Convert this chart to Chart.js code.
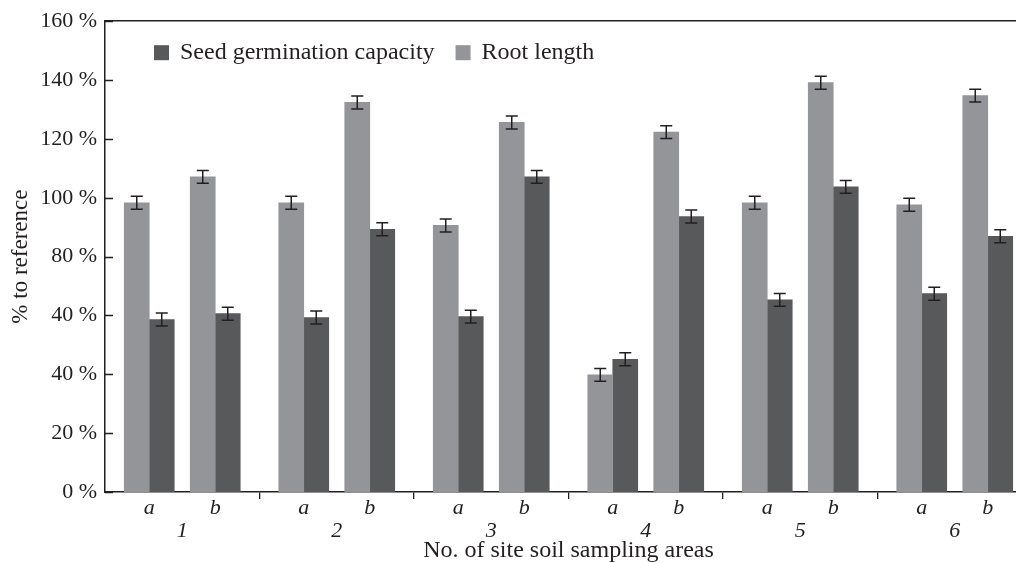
<!DOCTYPE html>
<html>
<head>
<meta charset="utf-8">
<script src="https://cdn.jsdelivr.net/npm/chart.js@4/dist/chart.umd.min.js"></script>
<style>
  html, body { margin: 0; padding: 0; overflow: hidden; background: #fff; width: 1016px; height: 563px; }
  #wrap { position: relative; width: 1032px; height: 563px; }
</style>
</head>
<body>
<div id="wrap"><canvas id="c"></canvas></div>
<script>
// ---- data ----
const categories = ['1', '2', '3', '4', '5', '6'];
const subLabels = ['a', 'b'];
const yTickLabels = ['0 %', '20 %', '40 %', '40 %', '80 %', '100 %', '120 %', '140 %', '160 %'];
const seriesNames = ['Seed germination capacity', 'Root length'];
const xTitle = 'No. of site soil sampling areas';
const yTitle = '% to reference';

const rootA = [98.3, 98.3, 90.6, 39.8, 98.3, 97.6];
const rootB = [107.1, 132.4, 125.6, 122.3, 139.1, 134.7];
const seedA = [58.6, 59.3, 59.6, 45.1, 65.3, 67.4];
const seedB = [60.6, 89.3, 107.1, 93.6, 103.7, 86.9];

const rootAErr = [2.2, 2.2, 2.2, 2.2, 2.2, 2.2];
const rootBErr = [2.2, 2.2, 2.2, 2.2, 2.2, 2.2];
const seedAErr = [2.2, 2.2, 2.2, 2.2, 2.2, 2.2];
const seedBErr = [2.2, 2.2, 2.2, 2.2, 2.2, 2.2];

// ---- style ----
const FONT = "'Liberation Serif', 'Times New Roman', serif";
const INK = '#231f20';
const DARK = '#58595b';
const LIGHT = '#939598';
const BAR_W = 25;       // bar width in px
const PAIR_OFF = 33;    // offset of a/b pair centre from group centre in px
const N = 4;
// per-dataset slot thickness so that bar centres land at the wanted offsets
function slot(i, centreOffset) { return Math.abs(centreOffset / (i + 0.5 - N / 2)); }
const offs = [-PAIR_OFF - BAR_W / 2, -PAIR_OFF + BAR_W / 2, PAIR_OFF - BAR_W / 2, PAIR_OFF + BAR_W / 2];

const datasets = [
  { label: seriesNames[1], sub: 0, data: rootA, err: rootAErr, backgroundColor: LIGHT },
  { label: seriesNames[0], sub: 0, data: seedA, err: seedAErr, backgroundColor: DARK },
  { label: seriesNames[1], sub: 1, data: rootB, err: rootBErr, backgroundColor: LIGHT },
  { label: seriesNames[0], sub: 1, data: seedB, err: seedBErr, backgroundColor: DARK }
].map((d, i) => Object.assign(d, { barThickness: slot(i, offs[i]), maxBarThickness: BAR_W, borderWidth: 0 }));

const errorBars = {
  id: 'errorBars',
  afterDatasetsDraw(chart) {
    const ctx = chart.ctx, y = chart.scales.y;
    ctx.save();
    ctx.strokeStyle = INK;
    ctx.lineWidth = 1.5;
    chart.data.datasets.forEach((ds, di) => {
      const meta = chart.getDatasetMeta(di);
      meta.data.forEach((bar, i) => {
        const v = ds.data[i], e = ds.err[i];
        const x = bar.x;
        const y1 = y.getPixelForValue(v + e), y2 = y.getPixelForValue(v - e);
        ctx.beginPath();
        ctx.moveTo(x, y1); ctx.lineTo(x, y2);
        ctx.moveTo(x - 6, y1); ctx.lineTo(x + 6, y1);
        ctx.moveTo(x - 6, y2); ctx.lineTo(x + 6, y2);
        ctx.stroke();
      });
    });
    ctx.restore();
  }
};

const decorations = {
  id: 'decorations',
  afterDraw(chart) {
    const ctx = chart.ctx, area = chart.chartArea, x = chart.scales.x, y = chart.scales.y;
    ctx.save();
    // inward y ticks
    ctx.strokeStyle = INK; ctx.lineWidth = 1.5;
    y.ticks.forEach((t, i) => {
      const py = Math.round(y.getPixelForTick(i)) + 0.5;
      ctx.beginPath(); ctx.moveTo(area.left, py); ctx.lineTo(area.left + 8, py); ctx.stroke();
    });
    // sub-category and category labels
    ctx.fillStyle = INK;
    ctx.textAlign = 'center';
    ctx.textBaseline = 'alphabetic';
    ctx.font = 'italic 22px ' + FONT;
    const m = chart.data.datasets.map((d, i) => chart.getDatasetMeta(i));
    categories.forEach((c, gi) => {
      const ax = (m[0].data[gi].x + m[1].data[gi].x) / 2;
      const bx = (m[2].data[gi].x + m[3].data[gi].x) / 2;
      ctx.fillText(subLabels[0], ax, area.bottom + 22);
      ctx.fillText(subLabels[1], bx, area.bottom + 22);
      ctx.fillText(c, x.getPixelForValue(gi), area.bottom + 45);
    });
    // legend
    ctx.font = '24px ' + FONT;
    ctx.textAlign = 'left';
    let lx = area.left + 49;
    const items = [{ t: seriesNames[0], c: DARK }, { t: seriesNames[1], c: LIGHT }];
    items.forEach(it => {
      ctx.fillStyle = it.c;
      ctx.fillRect(lx, area.top + 24, 15, 15);
      ctx.fillStyle = INK;
      ctx.fillText(it.t, lx + 26, area.top + 38);
      lx += 26 + ctx.measureText(it.t).width + 21;
    });
    ctx.restore();
  }
};

new Chart(document.getElementById('c'), {
  type: 'bar',
  data: { labels: categories, datasets },
  options: {
    responsive: true,
    maintainAspectRatio: false,
    animation: false,
    devicePixelRatio: 1,
    layout: { padding: { top: 17, left: 0, right: 0, bottom: 0 } },
    plugins: { legend: { display: false }, tooltip: { enabled: false } },
    scales: {
      x: {
        type: 'category',
        position: 'bottom',
        offset: true,
        grid: {
          display: true, drawOnChartArea: false, drawTicks: true, tickLength: 7, offset: true,
          lineWidth: 1.3,
          color: c => (c.index === 0 ? 'rgba(0,0,0,0)' : INK)
        },
        border: { display: true, color: INK, width: 1.5 },
        ticks: { display: false },
        title: { display: true, text: xTitle, color: INK, font: { family: FONT, size: 24, lineHeight: 1 }, padding: 0 },
        afterFit: s => { s.height = 71; }
      },
      x2: {
        type: 'category',
        position: 'top',
        offset: true,
        grid: { display: false, drawTicks: false },
        border: { display: true, color: INK, width: 1.5 },
        ticks: { display: false },
        afterFit: s => { s.height = 0; }
      },
      y: {
        type: 'linear',
        min: 0, max: 160,
        grid: { display: false, drawTicks: false },
        border: { display: true, color: INK, width: 1.5 },
        ticks: {
          stepSize: 20, padding: 8, color: INK,
          font: { family: FONT, size: 22 },
          callback: (v, i) => yTickLabels[i]
        },
        title: { display: true, text: yTitle, color: INK, font: { family: FONT, size: 23 }, padding: { top: 7 } },
        afterFit: s => { s.width = 105; }
      }
    }
  },
  plugins: [errorBars, decorations]
});
</script>
</body>
</html>
